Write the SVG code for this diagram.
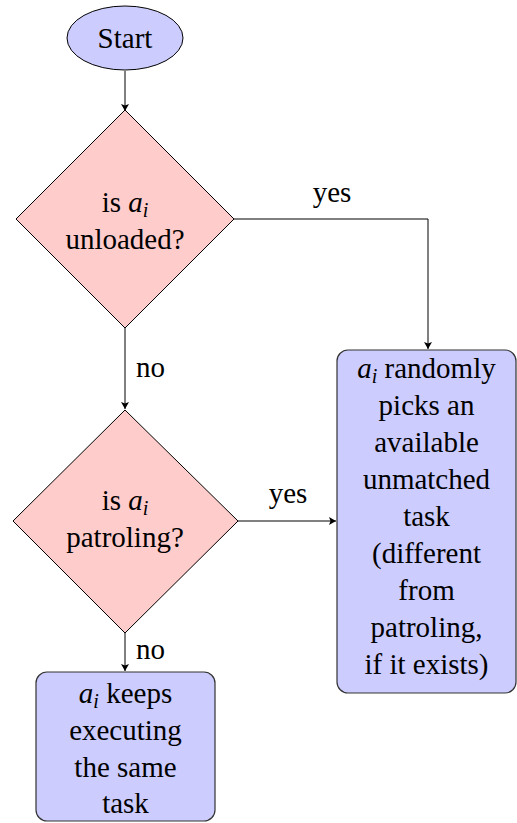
<svg xmlns="http://www.w3.org/2000/svg" width="517" height="823" viewBox="0 0 517 823">
<defs>
<style>
text{font-family:Liberation Serif, Tinos, Times New Roman, Times, DejaVu Serif, Noto Serif, serif;font-size:29px;fill:#000;text-anchor:middle}
.m{font-style:italic}
.s{font-style:italic;font-size:20px}
.dia{fill:#ffcccc;stroke:#000;stroke-width:1}
.blue{fill:#ccccff;stroke:#333;stroke-width:1.2}
.edge{fill:none;stroke:#000;stroke-width:1}
.lbl{text-anchor:start}
</style>
<marker id="arr" markerUnits="userSpaceOnUse" markerWidth="10" markerHeight="10" refX="7" refY="4" orient="auto">
<path d="M0,0 L7,4 L0,8 L1.5,4 Z" fill="#000"/>
</marker>
</defs>
<rect width="517" height="823" fill="#fff"/>
<g id="edges">
<path class="edge" d="M125,71 V111" marker-end="url(#arr)"/>
<path class="edge" d="M234,219 H428 V349" marker-end="url(#arr)"/>
<path class="edge" d="M125,328 V409" marker-end="url(#arr)"/>
<path class="edge" d="M238,521 H336" marker-end="url(#arr)"/>
<path class="edge" d="M125,633 V671" marker-end="url(#arr)"/>
<text x="332" y="202">yes</text>
<text class="lbl" x="136" y="377">no</text>
<text x="288" y="503">yes</text>
<text class="lbl" x="136" y="659">no</text>
</g>
<g id="start">
<ellipse cx="125" cy="38" rx="58" ry="32" fill="#ccccff" stroke="#000" stroke-width="1"/>
<text x="125" y="48">Start</text>
</g>
<g id="unloaded">
<polygon class="dia" points="125,110 234,219 125,328 16,219"/>
<text x="125" y="212">is <tspan class="m">a</tspan><tspan class="s" dy="5">i</tspan></text>
<text x="125" y="249">unloaded?</text>
</g>
<g id="patroling">
<polygon class="dia" points="125,410 238,521 125,633 13,521"/>
<text x="125" y="510">is <tspan class="m">a</tspan><tspan class="s" dy="5">i</tspan></text>
<text x="125" y="547">patroling?</text>
</g>
<g id="pick">
<rect class="blue" x="337" y="350" width="179" height="343" rx="11"/>
<text x="426.5" y="378"><tspan class="m">a</tspan><tspan class="s" dy="5">i</tspan><tspan dy="-5"> randomly</tspan></text>
<text x="426.5" y="415">picks an</text>
<text x="426.5" y="452">available</text>
<text x="426.5" y="489">unmatched</text>
<text x="426.5" y="526">task</text>
<text x="426.5" y="563">(different</text>
<text x="426.5" y="600">from</text>
<text x="426.5" y="637">patroling,</text>
<text x="426.5" y="674">if it exists)</text>
</g>
<g id="keep">
<rect class="blue" x="36" y="672" width="179" height="149" rx="11"/>
<text x="125.5" y="703"><tspan class="m">a</tspan><tspan class="s" dy="5">i</tspan><tspan dy="-5"> keeps</tspan></text>
<text x="125.5" y="740">executing</text>
<text x="125.5" y="777">the same</text>
<text x="125.5" y="813">task</text>
</g>
</svg>
